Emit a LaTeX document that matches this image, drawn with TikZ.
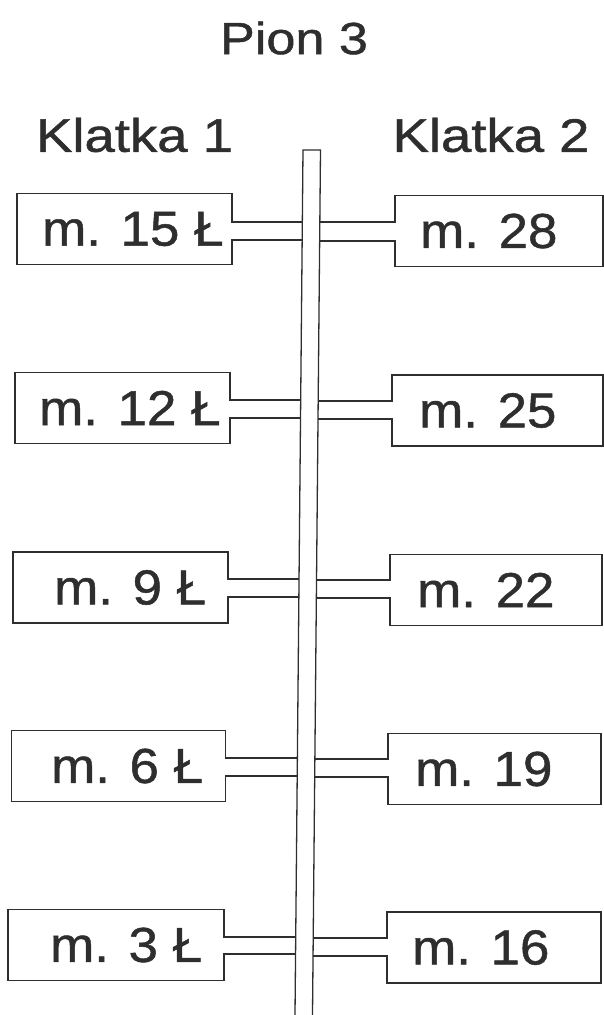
\documentclass[tikz,border=0pt]{standalone}
\usepackage{fontspec}
\setmainfont{Liberation Sans}
\newfontfamily\boxfont[FakeStretch=1.08, FakeBold=1]{Liberation Sans}
\newfontfamily\titlefont[FakeStretch=1.16, FakeBold=1]{Liberation Sans}
\usetikzlibrary{calc}
\definecolor{ink}{HTML}{2E2E2E}
\tikzset{
  pipe/.style={draw=ink, line width=1.3pt, line join=miter},
  flat/.style={minimum height=71pt, inner sep=0pt, outer sep=0pt},
  flattext/.style={anchor=west, inner sep=0pt, text=ink, font=\boxfont\fontsize{49}{58}\selectfont},
  titletext/.style={anchor=center, inner sep=0pt, text=ink, font=\titlefont\fontsize{47}{56}\selectfont},
}
\begin{document}
\begin{tikzpicture}[x=1pt, y=-1pt]
\useasboundingbox (0,0) rectangle (604,1015);
% titles
\node[titletext, font=\titlefont\fontsize{45}{54}\selectfont] (pion) at (294,38) {Pion 3};
\node[titletext] (k1) at (134.5,135) {Klatka 1};
\node[titletext] (k2) at (491,135) {Klatka 2};
% riser
\coordinate (rTL) at (303,150);
\coordinate (rTR) at (320.5,150);
\coordinate (rBL) at (295,1015);
\coordinate (rBR) at (312.5,1015);
\draw[pipe] (rBL) -- (rTL) -- (rTR) -- (rBR);
% flats: left
\node[flat, minimum width=215pt] (L1) at (124.5,229) {};
\node[flat, minimum width=215pt] (L2) at (122.5,408) {};
\node[flat, minimum width=215pt] (L3) at (120.5,587.5) {};
\node[flat, minimum width=214pt] (L4) at (118.5,766) {};
\node[flat, minimum width=216pt] (L5) at (116,945) {};
% flats: right
\node[flat, minimum width=208pt] (R1) at (499,231) {};
\node[flat, minimum width=211pt] (R2) at (497.5,410.5) {};
\node[flat, minimum width=212pt] (R3) at (496,590) {};
\node[flat, minimum width=213pt] (R4) at (494.5,769) {};
\node[flat, minimum width=214pt] (R5) at (494,947.5) {};
% labels
\node[flattext] (tL1) at (42,229) {m. 15 Ł};
\node[flattext] (tL2) at (39,408) {m. 12 Ł};
\node[flattext] (tL3) at (54,587.5) {m. 9 Ł};
\node[flattext] (tL4) at (51,766) {m. 6 Ł};
\node[flattext] (tL5) at (50,945) {m. 3 Ł};
\node[flattext] (tR1) at (420,231) {m. 28};
\node[flattext] (tR2) at (419,410.5) {m. 25};
\node[flattext] (tR3) at (417,590) {m. 22};
\node[flattext] (tR4) at (415,769) {m. 19};
\node[flattext] (tR5) at (412,947.5) {m. 16};
% branch points on riser
\foreach \n/\ya/\yb in {1/222/240, 2/400/418, 3/579/597, 4/758/776, 5/937/954}{
  \coordinate (la\n) at ($(rTL)!{(\ya-150)/865}!(rBL)$);
  \coordinate (lb\n) at ($(rTL)!{(\yb-150)/865}!(rBL)$);
}
\foreach \n/\ya/\yb in {1/222/241, 2/401/419, 3/580/598, 4/759/777, 5/938/956}{
  \coordinate (ra\n) at ($(rTR)!{(\ya-150)/865}!(rBR)$);
  \coordinate (rb\n) at ($(rTR)!{(\yb-150)/865}!(rBR)$);
}
% outlines with branch pipes
\foreach \n in {1,...,5}{
  \draw[pipe] (la\n) -- (la\n -| L\n.east) -- (L\n.north east) -- (L\n.north west)
     -- (L\n.south west) -- (L\n.south east) -- (lb\n -| L\n.east) -- (lb\n);
  \draw[pipe] (ra\n) -- (ra\n -| R\n.west) -- (R\n.north west) -- (R\n.north east)
     -- (R\n.south east) -- (R\n.south west) -- (rb\n -| R\n.west) -- (rb\n);
}
\end{tikzpicture}
\end{document}
